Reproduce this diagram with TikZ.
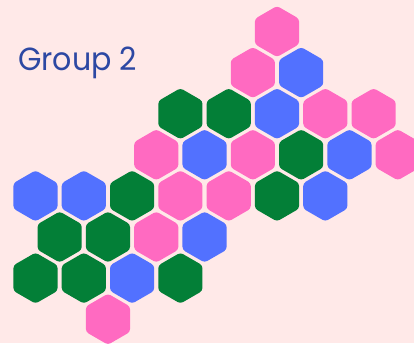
\documentclass[tikz,border=0pt]{standalone}
\usepackage{fontspec}
\setmainfont{Poppins}
\usetikzlibrary{shapes.geometric}
\definecolor{bg}{HTML}{FFE9E8}
\definecolor{pk}{HTML}{FF6AC1}
\definecolor{bl}{HTML}{5271FF}
\definecolor{gr}{HTML}{037F37}
\definecolor{tx}{HTML}{2D48A3}
\tikzset{hexcell/.style={regular polygon, regular polygon sides=6, shape border rotate=30,
  minimum size=51pt, inner sep=0pt, rounded corners=3pt, draw=none}}
\begin{document}
\begin{tikzpicture}[x=1pt,y=-1pt]
\fill[bg] (0,0) rectangle (414,343);
\useasboundingbox (0,0) rectangle (414,343);
\node[anchor=base west, inner sep=0pt, text=tx, font=\fontsize{32}{36}\selectfont] (title) at (18,70.5) {\scalebox{0.94}[1]{Group 2}};
\foreach \r/\k/\c in {0/0/pk,
  1/0/pk, 1/1/bl,
  2/-2/gr, 2/-1/gr, 2/0/bl, 2/1/pk, 2/2/pk,
  3/-2/pk, 3/-1/bl, 3/0/pk, 3/1/gr, 3/2/bl, 3/3/pk,
  4/-5/bl, 4/-4/bl, 4/-3/gr, 4/-2/pk, 4/-1/pk, 4/0/gr, 4/1/bl,
  5/-4/gr, 5/-3/gr, 5/-2/pk, 5/-1/bl,
  6/-5/gr, 6/-4/gr, 6/-3/bl, 6/-2/gr,
  7/-3/pk}{
  \pgfmathsetmacro\hx{277 - 24.15*mod(\r,2) + 48.3*\k}
  \pgfmathsetmacro\hy{31.5 + 41.1*\r}
  \node[hexcell, fill=\c] (h-\r-\k) at (\hx,\hy) {};
}
\end{tikzpicture}
\end{document}
